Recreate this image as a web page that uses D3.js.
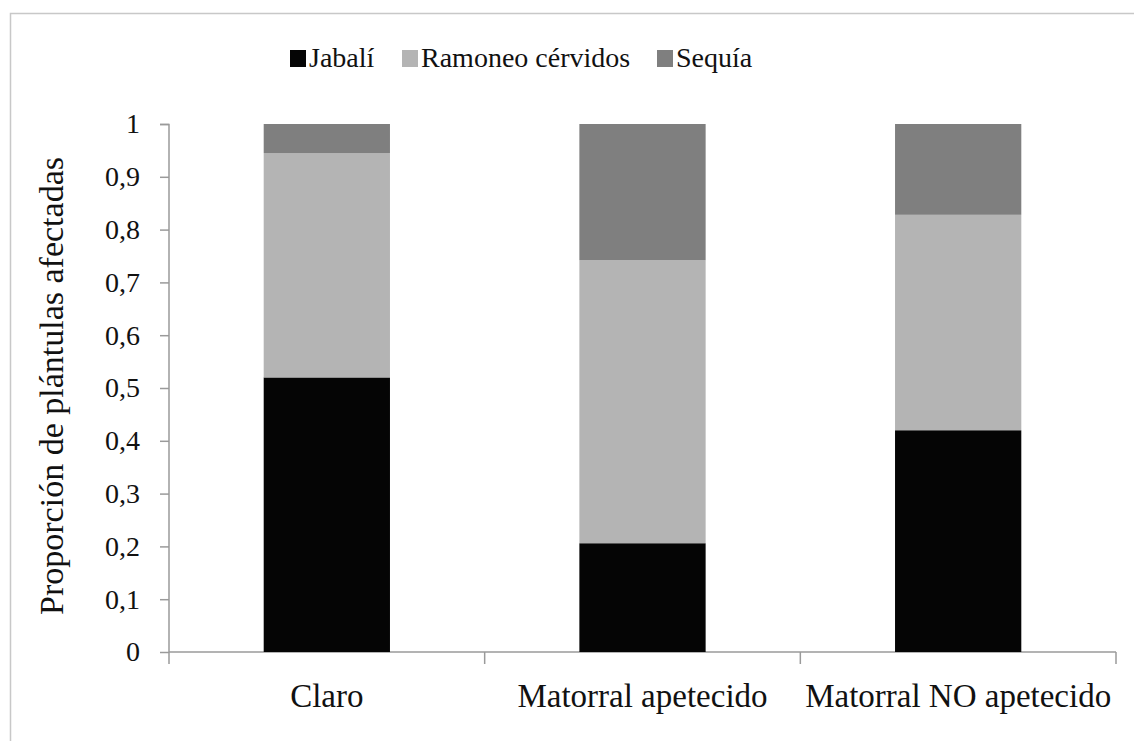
<!DOCTYPE html>
<html>
<head>
<meta charset="utf-8">
<script src="https://cdn.jsdelivr.net/npm/d3@7"></script>
<style>
  body { margin: 0; background: #fff; }
  text { font-family: "Liberation Serif", "DejaVu Serif", serif; fill: #111; }
</style>
</head>
<body>
<svg class="chart"></svg>
<script>
var categories = ["Claro", "Matorral apetecido", "Matorral NO apetecido"];
var seriesNames = ["Jabalí", "Ramoneo cérvidos", "Sequía"];
var jabali = [0.52, 0.206, 0.42];
var ramoneo = [0.425, 0.536, 0.408];
var sequia = [0.055, 0.258, 0.172];
var yTicks = [0, 0.1, 0.2, 0.3, 0.4, 0.5, 0.6, 0.7, 0.8, 0.9, 1];
var colors = ["#050505", "#b4b4b4", "#7f7f7f"];

var W = 1134, H = 741;
var margin = {top: 124, right: 18, bottom: 89, left: 169};
var width = W - margin.left - margin.right,
    height = H - margin.top - margin.bottom;

var svg = d3.select(".chart").attr("width", W).attr("height", H);

// outer frame (runs off right and bottom edges)
svg.append("rect")
    .attr("x", 10.5).attr("y", 13.5)
    .attr("width", 1140).attr("height", 760)
    .attr("fill", "none").attr("stroke", "#c8c8c8").attr("stroke-width", 1.5);

var chart = svg.append("g")
    .attr("transform", "translate(" + margin.left + "," + margin.top + ")");

var table = categories.map(function(c, i) {
  return {cat: c, "Jabalí": jabali[i], "Ramoneo cérvidos": ramoneo[i], "Sequía": sequia[i]};
});
var stacked = d3.stack().keys(seriesNames)(table);

var x = d3.scaleBand().domain(categories).range([0, width]).paddingInner(0.6).paddingOuter(0.3);
var xOuter = d3.scaleBand().domain(categories).range([0, width]);
var y = d3.scaleLinear().domain([0, 1]).range([height, 0]);

// y axis
var yAxis = d3.axisLeft(y).tickValues(yTicks).tickSize(9).tickPadding(20)
    .tickFormat(function(d) { return String(d).replace(".", ","); });
var gy = chart.append("g").call(yAxis);
gy.select(".domain").attr("stroke", "#9a9a9a").attr("stroke-width", 1.5)
    .attr("d", "M-9,0.5H0V" + height);
gy.selectAll(".tick line").attr("stroke", "#9a9a9a").attr("stroke-width", 1.5);
gy.selectAll(".tick text").style("font-size", "28px").style("font-family", "Liberation Serif, serif").attr("fill", "#111");

// x axis with ticks at category boundaries
chart.append("line")
    .attr("x1", 0).attr("x2", width).attr("y1", height).attr("y2", height)
    .attr("stroke", "#9a9a9a").attr("stroke-width", 1.5);
var bounds = categories.map(function(c) { return xOuter(c); }).concat([width]);
chart.selectAll(".xtick").data(bounds).enter().append("line")
    .attr("x1", function(d) { return d; }).attr("x2", function(d) { return d; })
    .attr("y1", height).attr("y2", height + 12)
    .attr("stroke", "#9a9a9a").attr("stroke-width", 1.5);
chart.selectAll(".xlabel").data(categories).enter().append("text")
    .attr("x", function(d) { return xOuter(d) + xOuter.bandwidth() / 2; })
    .attr("y", height + 55)
    .attr("text-anchor", "middle")
    .style("font-size", "33px")
    .text(function(d) { return d; });

// bars
chart.selectAll(".layer").data(stacked).enter().append("g")
    .attr("fill", function(d, i) { return colors[i]; })
  .selectAll("rect").data(function(d) { return d; }).enter().append("rect")
    .attr("x", function(d) { return x(d.data.cat); })
    .attr("y", function(d) { return y(d[1]); })
    .attr("width", x.bandwidth())
    .attr("height", function(d) { return y(d[0]) - y(d[1]); });

// y title
svg.append("text")
    .attr("transform", "translate(63," + (margin.top + height / 2 - 2) + ") rotate(-90)")
    .attr("text-anchor", "middle")
    .style("font-size", "34px")
    .text("Proporción de plántulas afectadas");

// legend
var legendX = [290, 402, 657];
var legend = svg.selectAll(".legend").data(seriesNames).enter().append("g")
    .attr("transform", function(d, i) { return "translate(" + legendX[i] + ",50)"; });
legend.append("rect").attr("width", 16).attr("height", 17)
    .attr("fill", function(d, i) { return colors[i]; });
legend.append("text").attr("x", 19).attr("y", 17)
    .style("font-size", "28px")
    .text(function(d) { return d; });
</script>
</body>
</html>
